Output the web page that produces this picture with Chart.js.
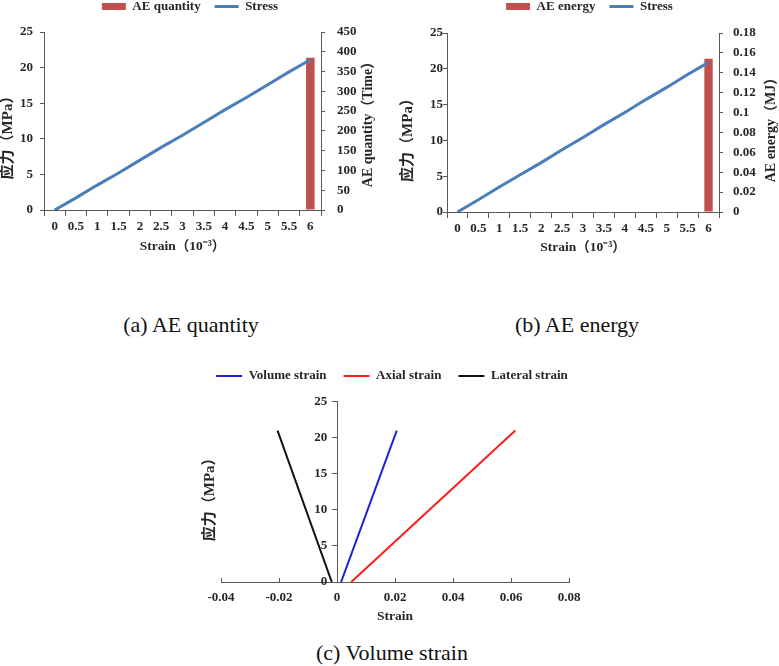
<!DOCTYPE html>
<html>
<head>
<meta charset="utf-8">
<script src="https://cdn.jsdelivr.net/npm/chart.js@4.4.1/dist/chart.umd.min.js"></script>
<style>
  html, body { margin: 0; padding: 0; background: #fff; }
  #page { position: relative; width: 779px; height: 666px; overflow: hidden; }
  .box { position: absolute; }
  .caption { position: absolute; width: 300px; text-align: center; font: 22px "Liberation Serif", "Times New Roman", serif; color: #111; line-height: 26px; }
</style>
</head>
<body>
<div id="page">
  <div class="box" style="left:0;top:0;width:390px;height:260px"><canvas id="quantity"></canvas></div>
  <div class="box" style="left:390px;top:0;width:389px;height:260px"><canvas id="energy"></canvas></div>
  <div class="box" style="left:170px;top:360px;width:444px;height:270px"><canvas id="volume"></canvas></div>
  <div class="caption" style="left:41px;top:312px">(a) AE quantity</div>
  <div class="caption" style="left:427px;top:312px">(b) AE energy</div>
  <div class="caption" style="left:242px;top:640px">(c) Volume strain</div>
</div>
<script>
// strain categories (10^-3) shared by (a) and (b)
var strainLabels = ['0', '0.5', '1', '1.5', '2', '2.5', '3', '3.5', '4', '4.5', '5', '5.5', '6'];

// (a) AE quantity
var stressQuantity = [0, 1.7, 3.5, 5.2, 7.0, 8.8, 10.5, 12.3, 14.1, 15.8, 17.6, 19.4, 21.1];
var aeQuantity = [null, null, null, null, null, null, null, null, null, null, null, null, 385];

// (b) AE energy
var stressEnergy = [0, 1.7, 3.5, 5.2, 6.9, 8.7, 10.4, 12.2, 13.9, 15.7, 17.4, 19.2, 20.9];
var aeEnergy = [null, null, null, null, null, null, null, null, null, null, null, null, 0.154];

// (c) volume strain
var volumeStrain = [{x: 0.0014, y: 0}, {x: 0.0206, y: 21}];
var axialStrain = [{x: 0.0049, y: 0}, {x: 0.0615, y: 21}];
var lateralStrain = [{x: -0.0018, y: 0}, {x: -0.0205, y: 21}];

// tick values
var stressTicks = [0, 5, 10, 15, 20, 25];
var quantityTicks = [0, 50, 100, 150, 200, 250, 300, 350, 400, 450];
var energyTicks = [0, 0.02, 0.04, 0.06, 0.08, 0.1, 0.12, 0.14, 0.16, 0.18];
var strainTicks = [-0.04, -0.02, 0, 0.02, 0.04, 0.06, 0.08];

var FONT = '"Liberation Serif", "Noto Sans CJK SC", serif';
var INK = '#262626';
var AXIS = '#595959';
var BLUE = '#4a7ebb';
var RED = '#c0504d';

Chart.defaults.font.family = FONT;
Chart.defaults.color = INK;

function font(size) {
    return {family: FONT, size: size || 13, weight: 'bold'};
}

function useTicks(values) {
    return function(scale) {
        scale.ticks = values.map(function(v) { return {value: v}; });
    };
}

// an empty axis that only reserves room beside the plot
function spacer(side, width) {
    return {
        position: side,
        display: true,
        ticks: {display: false},
        grid: {display: false},
        border: {display: false},
        afterFit: function(sc) { sc.width = width; }
    };
}

// legend entries: rectangle for bars, short line for lines
function legendItems(chart) {
    return chart.data.datasets.map(function(ds, i) {
        var isLine = ds.type === 'line' || chart.config.type === 'scatter';
        return {
            text: ds.label,
            datasetIndex: i,
            pointStyle: isLine ? 'line' : 'rect',
            fillStyle: isLine ? ds.borderColor : ds.backgroundColor,
            strokeStyle: ds.borderColor,
            lineWidth: isLine ? ds.borderWidth : 0,
            fontColor: INK,
            hidden: false
        };
    });
}

// fixed legend height, so the plot starts where it should
var legendHeight = {
    id: 'legendHeight',
    beforeInit: function(chart, args, opts) {
        var fit = chart.legend.fit;
        chart.legend.fit = function() {
            fit.call(this);
            this.height = opts.height;
        };
    }
};

// rotated axis titles that read bottom to top
var sideTitle = {
    id: 'sideTitle',
    afterDraw: function(chart, args, opts) {
        var area = chart.chartArea;
        var ctx = chart.ctx;
        (opts.items || []).forEach(function(t) {
            ctx.save();
            ctx.translate(t.x, (area.top + area.bottom) / 2 + (t.dy || 0));
            ctx.rotate(-Math.PI / 2);
            ctx.font = 'bold ' + t.size + 'px ' + FONT;
            ctx.fillStyle = INK;
            ctx.textAlign = 'center';
            ctx.textBaseline = 'middle';
            ctx.fillText(t.text, 0, 0);
            ctx.restore();
        });
    }
};

function aeChart(id, s) {
    return new Chart(document.getElementById(id), {
        type: 'bar',
        data: {
            labels: strainLabels,
            datasets: [{
                label: s.barLabel,
                data: s.barData,
                backgroundColor: RED,
                yAxisID: 'y1',
                barPercentage: 0.4,
                categoryPercentage: 1,
                order: 1
            }, {
                type: 'line',
                label: 'Stress',
                data: s.stress,
                borderColor: BLUE,
                borderWidth: 3,
                pointRadius: 0,
                tension: 0,
                yAxisID: 'y',
                order: 0
            }]
        },
        options: {
            responsive: true,
            maintainAspectRatio: false,
            animation: false,
            events: [],
            layout: {padding: s.padding},
            plugins: {
                legend: {
                    labels: {
                        font: font(13),
                        color: INK,
                        padding: 14,
                        usePointStyle: true,
                        pointStyleWidth: 24,
                        boxHeight: 7,
                        generateLabels: legendItems,
                        sort: function(a, b) { return a.datasetIndex - b.datasetIndex; }
                    }
                },
                tooltip: {enabled: false},
                legendHeight: {height: s.legendHeight},
                sideTitle: {items: s.titles}
            },
            scales: {
                x: {
                    grid: {offset: true, drawOnChartArea: false, tickLength: 6, color: AXIS},
                    border: {color: AXIS},
                    ticks: {font: font(13), color: INK, autoSkip: false, maxRotation: 0, padding: 3},
                    title: {display: true, text: 'Strain（10⁻³）', font: font(13.5), color: INK, padding: {top: 0, bottom: s.xTitlePad}},
                    afterFit: function(sc) { sc.height = s.xHeight; }
                },
                y: {
                    position: 'left',
                    min: 0,
                    max: 25,
                    afterBuildTicks: useTicks(stressTicks),
                    grid: {drawOnChartArea: false, tickLength: 4, color: AXIS},
                    border: {color: AXIS},
                    ticks: {font: font(13), color: INK, padding: s.leftPad, callback: function(v) { return String(v); }},
                    afterFit: function(sc) { sc.width = s.leftWidth; }
                },
                y1: {
                    position: 'right',
                    min: 0,
                    max: s.rightMax,
                    afterBuildTicks: useTicks(s.rightTicks),
                    grid: {drawOnChartArea: false, tickLength: 4, color: AXIS},
                    border: {color: AXIS},
                    ticks: {font: font(13), color: INK, padding: s.rightPad, callback: function(v) { return String(v); }},
                    afterFit: function(sc) { sc.width = s.rightWidth; }
                }
            }
        },
        plugins: [legendHeight, sideTitle]
    });
}

aeChart('quantity', {
    barLabel: 'AE quantity',
    barData: aeQuantity,
    stress: stressQuantity,
    rightTicks: quantityTicks,
    rightMax: 450,
    titles: [
        {text: '应力（MPa）', x: 8, dy: 13, size: 15},
        {text: 'AE quantity（Time）', x: 368, dy: 0, size: 14}
    ],
    padding: {top: -14, left: 0, right: 10, bottom: 0},
    legendHeight: 46,
    leftWidth: 44,
    rightWidth: 59,
    xHeight: 50,
    xTitlePad: 5,
    leftPad: 7,
    rightPad: 12
});

aeChart('energy', {
    barLabel: 'AE energy',
    barData: aeEnergy,
    stress: stressEnergy,
    rightTicks: energyTicks,
    rightMax: 0.18,
    titles: [
        {text: '应力（MPa）', x: 18, dy: 14, size: 15},
        {text: 'AE energy（MJ）', x: 381, dy: 4, size: 14}
    ],
    padding: {top: -14, left: 10, right: 0, bottom: 0},
    legendHeight: 47,
    leftWidth: 47,
    rightWidth: 60,
    xHeight: 48,
    xTitlePad: 4,
    leftPad: 0,
    rightPad: 10
});

new Chart(document.getElementById('volume'), {
    type: 'scatter',
    data: {
        datasets: [{
            label: 'Volume strain',
            data: volumeStrain,
            showLine: true,
            borderColor: '#1f1fd6',
            borderWidth: 2,
            pointRadius: 0,
            tension: 0
        }, {
            label: 'Axial strain',
            data: axialStrain,
            showLine: true,
            borderColor: '#ff1a1a',
            borderWidth: 2,
            pointRadius: 0,
            tension: 0
        }, {
            label: 'Lateral strain',
            data: lateralStrain,
            showLine: true,
            borderColor: '#111111',
            borderWidth: 2,
            pointRadius: 0,
            tension: 0
        }]
    },
    options: {
        responsive: true,
        maintainAspectRatio: false,
        animation: false,
        events: [],
        layout: {padding: {top: -7.5, left: 0, right: 0, bottom: 0}},
        plugins: {
            legend: {
                labels: {
                    font: font(13),
                    color: INK,
                    padding: 17,
                    usePointStyle: true,
                    pointStyleWidth: 26,
                    boxHeight: 7,
                    generateLabels: legendItems
                }
            },
            tooltip: {enabled: false},
            legendHeight: {height: 49.2},
            sideTitle: {items: [{text: '应力（MPa）', x: 40, dy: 4, size: 15}]}
        },
        scales: {
            x: {
                type: 'linear',
                min: -0.04,
                max: 0.08,
                afterBuildTicks: useTicks(strainTicks),
                grid: {drawOnChartArea: false, tickLength: -4, color: AXIS},
                border: {color: AXIS},
                ticks: {font: font(13), color: INK, padding: 12, callback: function(v) { return String(v); }},
                title: {display: true, text: 'Strain', font: font(13.5), color: INK, padding: {top: 0, bottom: 5}},
                afterFit: function(sc) { sc.height = 48; }
            },
            y: {
                type: 'linear',
                position: {x: 0},
                min: 0,
                max: 25,
                afterBuildTicks: useTicks(stressTicks),
                grid: {drawOnChartArea: false, tickLength: 5, color: AXIS},
                border: {color: AXIS},
                ticks: {font: font(13), color: INK, callback: function(v) { return String(v) + '   '; }}
            },
            padLeft: spacer('left', 51),
            padRight: spacer('right', 45)
        }
    },
    plugins: [legendHeight, sideTitle]
});
</script>
</body>
</html>
